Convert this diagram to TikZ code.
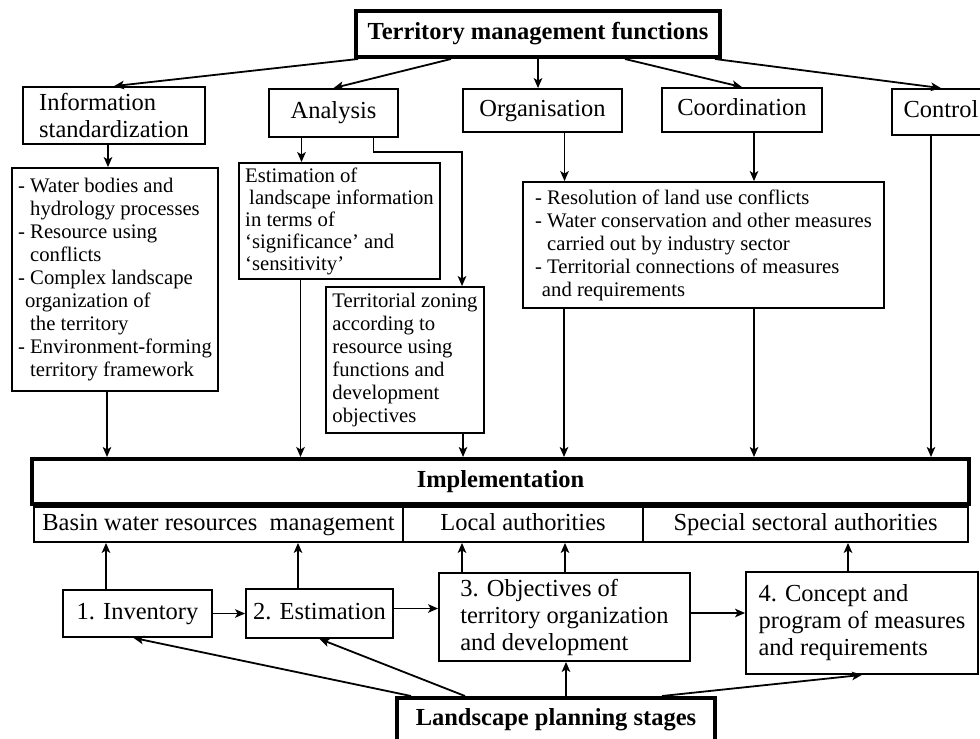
\documentclass[tikz,border=0pt]{standalone}
\usepackage{fontspec}
\setmainfont{Liberation Serif}
\usetikzlibrary{arrows.meta}

\begin{document}
\begin{tikzpicture}[x=1pt,y=-1pt,line width=1.8pt,
        bigtext/.style={font=\fontsize{24.5}{27}\selectfont},
        smalltext/.style={font=\fontsize{20.7}{23}\selectfont},
        oneline/.style={text height=17pt,text depth=5.5pt},
        head/.style={draw,line width=4pt,inner sep=0pt,oneline,font=\bfseries\fontsize{24.5}{27}\selectfont},
        func/.style={draw,inner sep=0pt,bigtext,align=left},
        listbox/.style={draw,inner sep=0pt,smalltext,align=left},
        link/.style={-{Stealth[length=10pt,width=8.5pt,inset=2.5pt]}}]

        \useasboundingbox (0,0) rectangle (980,739);

        % Territory management functions
        \node (title) at (538,34) [head,minimum width=364pt,minimum height=46pt] {Territory management functions};

        % Functions
        \node (infostd) at (114,115.5) [func,minimum width=182pt,minimum height=57pt] {Information\\standardization};
        \node (analysis) at (333.5,113) [func,oneline,minimum width=129pt,minimum height=48pt] {Analysis};
        \node (organisation) at (542.5,110.5) [func,oneline,minimum width=159pt,minimum height=43pt] {Organisation};
        \node (coordination) at (742,110) [func,oneline,minimum width=160pt,minimum height=44pt] {Coordination};
        \node (control) at (941,112) [func,oneline,minimum width=98pt,minimum height=46pt] {Control};

        % Title >- functions
        \draw[link] ([xshift=4pt]title.south west) -- (infostd.north);
        \draw[link] ([xshift=97pt]title.south west) -- (analysis.north);
        \draw[link] (title.south) -- (title.south |- organisation.north);
        \draw[link] ([xshift=-97pt]title.south east) -- (coordination.north);
        \draw[link] ([xshift=-7pt]title.south east) -- (control.north);

        % Contents of the functions
        \node (infolist) at (115,279.5) [listbox,minimum width=206pt,minimum height=223pt] {- Water bodies and\\\phantom{- }hydrology processes\\- Resource using\\\phantom{- }conflicts\\- Complex landscape\\\phantom{-}organization of\\\phantom{- }the territory\\- Environment-forming\\\phantom{- }territory framework};
        \node (estim) at (339.5,221) [listbox,minimum width=201pt,minimum height=116pt,font=\fontsize{20.7}{22}\selectfont] {Estimation of\\\hspace{4pt}landscape information\\in terms of\\`significance' and\\`sensitivity'};
        \node (zoning) at (405,360) [listbox,minimum width=158pt,minimum height=146pt] {Territorial zoning\\according to\\resource using\\functions and\\development\\objectives};
        \node (measures) at (703.5,245) [listbox,minimum width=361pt,minimum height=126pt] {- Resolution of land use conflicts\\- Water conservation and other measures\\\phantom{- }carried out by industry sector\\- Territorial connections of measures\\\phantom{-}and requirements};

        % Functions >- contents
        \draw[link] ([xshift=-6pt]infostd.south) -- ([xshift=-6pt]infostd.south |- infolist.north);
        \draw[link] ([xshift=-32pt]analysis.south) -- ([xshift=-32pt]analysis.south |- estim.north);
        \draw[link] ([xshift=40pt]analysis.south) -- ++(0,14) -| ([xshift=57pt]zoning.north);
        \draw[link] ([xshift=22pt]organisation.south) -- ([xshift=22pt]organisation.south |- measures.north);
        \draw[link] ([xshift=12pt]coordination.south) -- ([xshift=12pt]coordination.south |- measures.north);

        % Implementation
        \node (impl) at (500.5,481.5) [head,minimum width=937pt,minimum height=45pt] {Implementation};
        \node (basin) at (218.5,524.5) [func,oneline,minimum width=369pt,minimum height=35pt] {Basin water resources\ \ management};
        \node (local) at (523,524.5) [func,oneline,minimum width=240pt,minimum height=35pt] {Local authorities};
        \node (special) at (805.5,524.5) [func,oneline,minimum width=325pt,minimum height=35pt] {Special sectoral authorities};

        % Contents >- implementation
        \draw[link] ([xshift=-8pt]infolist.south) -- ([xshift=-8pt]infolist.south |- impl.north);
        \draw[link] ([xshift=-39pt]estim.south) -- ([xshift=-39pt]estim.south |- impl.north);
        \draw[link] ([xshift=58pt]zoning.south) -- ([xshift=58pt]zoning.south |- impl.north);
        \draw[link] ([xshift=-139.5pt]measures.south) -- ([xshift=-139.5pt]measures.south |- impl.north);
        \draw[link] ([xshift=50.5pt]measures.south) -- ([xshift=50.5pt]measures.south |- impl.north);
        \draw[link] ([xshift=-10pt]control.south) -- ([xshift=-10pt]control.south |- impl.north);

        % Landscape planning stages
        \node (inv) at (137.5,613.5) [func,oneline,minimum width=149pt,minimum height=47pt] {1. Inventory};
        \node (est) at (319.5,613.5) [func,oneline,minimum width=147pt,minimum height=49pt] {2. Estimation};
        \node (obj) at (564.5,617) [func,minimum width=251pt,minimum height=88pt] {3. Objectives of\\territory organization\\and development};
        \node (conc) at (862,623) [func,minimum width=232pt,minimum height=102pt] {4. Concept and\\program of measures\\and requirements};
        \node (land) at (556,720) [head,minimum width=318pt,minimum height=44pt] {Landscape planning stages};

        % Stage >- stage
        \draw[link] (inv.east) -- (est.west);
        \draw[link] ([yshift=5pt]est.east) -- ([yshift=5pt]est.east -| obj.west);
        \draw[link] ([yshift=4pt]obj.east) -- ([yshift=4pt]obj.east -| conc.west);

        % Stages >- authorities
        \draw[link] ([xshift=-31.5pt]inv.north) -- ([xshift=-31.5pt]inv.north |- basin.south);
        \draw[link] ([xshift=-21.5pt]est.north) -- ([xshift=-21.5pt]est.north |- basin.south);
        \draw[link] ([xshift=-102.5pt]obj.north) -- ([xshift=-102.5pt]obj.north |- local.south);
        \draw[link] ([xshift=0.5pt]obj.north) -- ([xshift=0.5pt]obj.north |- local.south);
        \draw[link] ([xshift=-14pt]conc.north) -- ([xshift=-14pt]conc.north |- special.south);

        % Landscape planning stages >- stages
        \draw[link] ([xshift=16pt]land.north west) -- ([xshift=-4pt]inv.south);
        \draw[link] ([xshift=70pt]land.north west) -- (est.south);
        \draw[link] ([xshift=10pt]land.north) -- ([xshift=10pt]land.north |- obj.south);
        \draw[link] ([xshift=-55pt]land.north east) -- (conc.south);

    \end{tikzpicture}
\end{document}
